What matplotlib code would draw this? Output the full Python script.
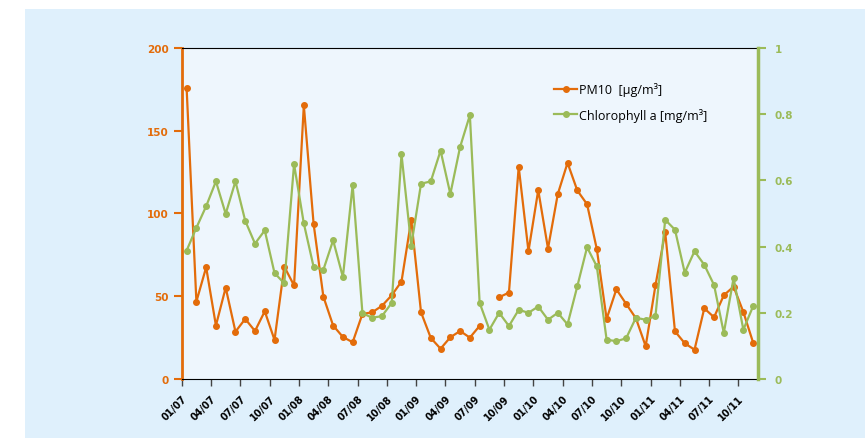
import numpy as np
import matplotlib
matplotlib.use("Agg")
import matplotlib.pyplot as plt
from matplotlib.patches import Rectangle

# monthly values, 01/2007 - 11/2011
pm10 = [175.8, 46.8, 67.5, 32.3, 55.2, 28.6, 36.3, 29.0, 40.9, 23.6,
        67.9, 56.5, 165.3, 93.8, 49.8, 32.3, 25.4, 22.2, 39.3, 40.3,
        44.2, 50.6, 58.9, 96.2, 40.3, 24.8, 18.3, 25.2, 29.0, 25.0,
        32.1, np.nan, 49.4, 52.2, 128.2, 77.2, 114.1, 78.8, 111.7, 130.6,
        113.9, 105.6, 78.4, 36.3, 54.2, 45.4, 36.7, 19.8, 56.5, 88.7,
        28.8, 21.6, 17.7, 42.7, 37.3, 50.6, 55.8, 40.5, 22.0]
chl = [0.388, 0.457, 0.522, 0.597, 0.499, 0.597, 0.478, 0.409, 0.449, 0.320,
       0.289, 0.649, 0.470, 0.339, 0.330, 0.419, 0.308, 0.586, 0.199, 0.185,
       0.190, 0.230, 0.679, 0.403, 0.590, 0.597, 0.690, 0.559, 0.701, 0.797,
       0.230, 0.149, 0.200, 0.160, 0.209, 0.200, 0.219, 0.179, 0.200, 0.165,
       0.280, 0.398, 0.340, 0.119, 0.114, 0.123, 0.185, 0.179, 0.190, 0.481,
       0.451, 0.321, 0.386, 0.345, 0.284, 0.139, 0.305, 0.149, 0.220]
tick_labels = ["01/07", "04/07", "07/07", "10/07", "01/08", "04/08", "07/08",
               "10/08", "01/09", "04/09", "07/09", "10/09", "01/10", "04/10",
               "07/10", "10/10", "01/11", "04/11", "07/11", "10/11"]

orange = "#E36C0A"
green = "#9BBB59"

fig = plt.figure(figsize=(8.65, 4.39), dpi=100)
fig.patch.set_facecolor("white")
bg = Rectangle((25 / 865, 0), 1 - 25 / 865, 1 - 10 / 439,
               transform=fig.transFigure, facecolor="#DFF0FC",
               edgecolor="none", zorder=-10)
fig.add_artist(bg)

ax = fig.add_axes([0.2101, 0.1344, 0.6662, 0.754])
ax.set_facecolor("#EEF6FD")
x = np.arange(len(pm10))

ax.plot(x, pm10, color=orange, lw=1.6, marker="o", ms=4,
        label="PM10  [µg/m³]")
ax.set_ylim(0, 200)
ax.set_yticks([0, 50, 100, 150, 200])
ax.set_xlim(-0.5, 58.5)
ax.set_xticks(np.arange(len(tick_labels)) * 3 - 0.5)
ax.set_xticklabels(tick_labels, rotation=45, ha="right",
                   rotation_mode="anchor", fontsize=7, fontweight="bold")
ax.tick_params(axis="x", length=5, width=1, color="#444444", pad=5)
ax.tick_params(axis="y", colors=orange, length=6, width=1.5, labelsize=7.5)
for t in ax.get_yticklabels():
    t.set_fontweight("bold")

ax2 = ax.twinx()
ax2.plot(x, chl, color=green, lw=1.6, marker="o", ms=4,
         label="Chlorophyll a [mg/m³]")
ax2.set_ylim(0, 1)
ax2.set_yticks([0, 0.2, 0.4, 0.6, 0.8, 1])
ax2.set_yticklabels(["0", "0.2", "0.4", "0.6", "0.8", "1"])
ax2.tick_params(axis="y", colors=green, length=6, width=1.5, labelsize=7.5,
                pad=6)
for t in ax2.get_yticklabels():
    t.set_fontweight("bold")

# spines
ax.spines["left"].set_color(orange)
ax.spines["left"].set_linewidth(2)
ax.spines["right"].set_visible(False)
ax.spines["top"].set_color("black")
ax.spines["bottom"].set_color("black")
ax2.spines["right"].set_color(green)
ax2.spines["right"].set_linewidth(2.5)
for s in ["left", "top", "bottom"]:
    ax2.spines[s].set_visible(False)

h1, l1 = ax.get_legend_handles_labels()
h2, l2 = ax2.get_legend_handles_labels()
ax2.legend(h1 + h2, l1 + l2, loc="upper left", bbox_to_anchor=(0.627, 0.93),
           frameon=False, handlelength=1.8, handletextpad=0.2,
           labelspacing=0.9, prop={"family": "Open Sans", "size": 9})

plt.savefig("out.png", dpi=100)
